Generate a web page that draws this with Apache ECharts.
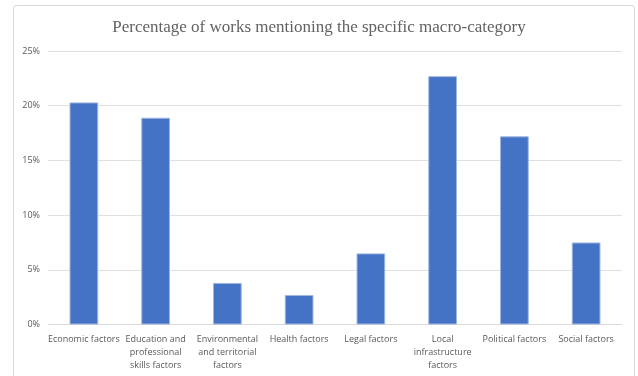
<!DOCTYPE html>
<html>
<head>
<meta charset="utf-8">
<script src="https://cdn.jsdelivr.net/npm/echarts@6/dist/echarts.min.js"></script>
<style>
html,body{margin:0;padding:0;background:#fff;}
#main{width:638px;height:376px;}
</style>
</head>
<body>
<div id="main"></div>
<script>
var categories = [
  "Economic factors",
  "Education and\nprofessional\nskills factors",
  "Environmental\nand territorial\nfactors",
  "Health factors",
  "Legal factors",
  "Local\ninfrastructure\nfactors",
  "Political factors",
  "Social factors"
];
var values = [20.3, 18.9, 3.8, 2.7, 6.5, 22.7, 17.2, 7.5];
var titleText = "Percentage of works mentioning the specific macro-category";

var chart = echarts.init(document.getElementById('main'), null, {renderer: 'canvas'});
chart.setOption({
  backgroundColor: '#ffffff',
  animation: false,
  graphic: [{
    type: 'rect',
    shape: {x: 13.5, y: 5.5, width: 621, height: 380, r: 3},
    style: {fill: 'none', stroke: '#d9d9d9', lineWidth: 1},
    silent: true
  }],
  title: {
    text: titleText,
    left: 'center',
    top: 14,
    textStyle: {
      fontFamily: 'Liberation Serif',
      fontWeight: 'normal',
      fontSize: 17,
      color: '#626262'
    }
  },
  grid: {left: 48, right: 16, top: 51, bottom: 51.5, containLabel: false},
  xAxis: {
    type: 'category',
    data: categories,
    axisLine: {show: true, lineStyle: {color: '#d9d9d9', width: 1}},
    axisTick: {show: false},
    axisLabel: {
      interval: 0,
      color: '#595959',
      fontFamily: 'Open Sans',
      fontSize: 9,
      lineHeight: 13,
      margin: 8
    }
  },
  yAxis: {
    type: 'value',
    min: 0,
    max: 25,
    interval: 5,
    axisLine: {show: false},
    axisTick: {show: false},
    splitLine: {lineStyle: {color: '#e0e0e0', width: 1}},
    axisLabel: {
      formatter: '{value}%',
      color: '#595959',
      fontFamily: 'Open Sans',
      fontSize: 9,
      margin: 8
    }
  },
  series: [{
    type: 'bar',
    data: values,
    barWidth: '40%',
    itemStyle: {color: '#4472C4', borderColor: '#9fb6e0', borderWidth: 1}
  }]
});
</script>
</body>
</html>
